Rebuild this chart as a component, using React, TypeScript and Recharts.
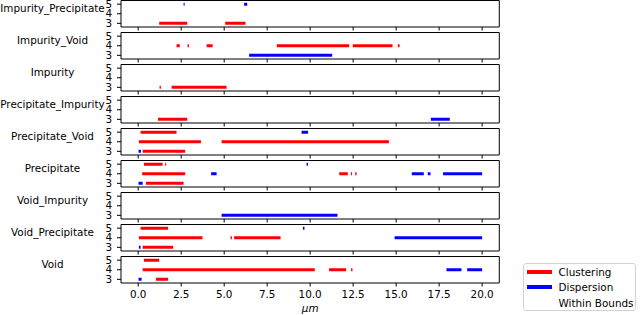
import React from 'react';
import { LineChart, Line, XAxis, YAxis, ReferenceArea, Label } from 'recharts';

// [kind, level, start, end]  C = clustering, D = dispersion
type Seg = [string, number, number, number];

const panelNames = [
    'Impurity_Precipitate',
    'Impurity_Void',
    'Impurity',
    'Precipitate_Impurity',
    'Precipitate_Void',
    'Precipitate',
    'Void_Impurity',
    'Void_Precipitate',
    'Void',
];

const impurityPrecipitate: Seg[] = [
    ['D', 5, 2.64, 2.7],
    ['D', 5, 6.16, 6.34],
    ['C', 3, 1.22, 2.85],
    ['C', 3, 5.06, 6.24],
];

const impurityVoid: Seg[] = [
    ['C', 4, 2.23, 2.42],
    ['C', 4, 2.87, 2.95],
    ['C', 4, 3.98, 4.33],
    ['C', 4, 8.06, 12.27],
    ['C', 4, 12.48, 14.79],
    ['C', 4, 15.1, 15.2],
    ['D', 3, 6.45, 11.28],
];

const impurity: Seg[] = [
    ['C', 3, 1.24, 1.32],
    ['C', 3, 1.94, 5.14],
];

const precipitateImpurity: Seg[] = [
    ['C', 3, 1.15, 2.85],
    ['D', 3, 17.02, 18.12],
];

const precipitateVoid: Seg[] = [
    ['C', 5, 0.14, 2.23],
    ['D', 5, 9.5, 9.88],
    ['C', 4, 0.04, 3.65],
    ['C', 4, 4.85, 14.58],
    ['D', 3, 0.02, 0.16],
    ['C', 3, 0.26, 2.73],
];

const precipitate: Seg[] = [
    ['C', 5, 0.33, 1.42],
    ['C', 5, 1.57, 1.63],
    ['D', 5, 9.79, 9.87],
    ['C', 4, 0.23, 2.73],
    ['D', 4, 4.24, 4.56],
    ['C', 4, 11.69, 12.19],
    ['C', 4, 12.37, 12.44],
    ['C', 4, 12.62, 12.7],
    ['D', 4, 15.91, 16.61],
    ['D', 4, 16.84, 17.0],
    ['D', 4, 17.73, 20.0],
    ['D', 3, 0.02, 0.26],
    ['C', 3, 0.45, 2.64],
];

const voidImpurity: Seg[] = [
    ['D', 3, 4.85, 11.59],
];

const voidPrecipitate: Seg[] = [
    ['C', 5, 0.14, 1.74],
    ['D', 5, 9.58, 9.67],
    ['C', 4, 0.04, 3.74],
    ['C', 4, 5.37, 5.45],
    ['C', 4, 5.58, 8.28],
    ['D', 4, 14.91, 20.0],
    ['D', 3, 0.04, 0.14],
    ['C', 3, 0.26, 2.03],
];

const voidOnly: Seg[] = [
    ['C', 5, 0.33, 1.22],
    ['C', 4, 0.26, 10.27],
    ['C', 4, 11.1, 12.09],
    ['C', 4, 12.38, 12.46],
    ['D', 4, 17.93, 18.8],
    ['D', 4, 19.13, 20.0],
    ['D', 3, 0.02, 0.2],
    ['C', 3, 1.03, 1.74],
];

const panelSegments = [
    impurityPrecipitate, impurityVoid, impurity, precipitateImpurity,
    precipitateVoid, precipitate, voidImpurity, voidPrecipitate, voidOnly,
];

const xTicks = [0, 2.5, 5, 7.5, 10, 12.5, 15, 17.5, 20];
const yTicks = [3, 4, 5];
const legendItems = ['Clustering', 'Dispersion', 'Within Bounds'];

const colors: { [k: string]: string } = { C: '#ff0000', D: '#0000ff', W: '#ffffff' };
const legendColors = [colors.C, colors.D, colors.W];

const font = 'DejaVu Sans';
const fontSize = 10.4;
const tickStyle = { fontFamily: font, fontSize: fontSize, fill: '#000' };

interface IPanel {
    name: string
    segs: Seg[]
    index: number
    last: boolean
}

const Panel = ({ name, segs, index, last }: IPanel) => {
    const height = last ? 59 : 40;
    return (
        <div style={{ position: 'absolute', left: 0, top: index * 32, width: 640, height: height }}>
            <div style={{
                position: 'absolute', left: 0, top: 2.2, width: 105, textAlign: 'center',
                fontFamily: font, fontSize: fontSize, lineHeight: '12px', color: '#000', whiteSpace: 'nowrap'
            }}>{name}</div>
            <div style={{ position: 'absolute', left: 0, top: 0 }}>
                <LineChart width={640} height={height} margin={{ top: 0.5, right: 140.7, bottom: 0, left: 101 }}>
                    <XAxis type="number" dataKey="x" domain={[-1, 21]} ticks={xTicks} allowDataOverflow
                        interval={0} axisLine={false} tickSize={3.5} tickMargin={4} height={last ? 32 : 13}
                        stroke="#000" tickLine={{ stroke: '#000' }} tick={tickStyle}
                        tickFormatter={(v: number) => last ? v.toFixed(1) : ''}>
                        {last && <Label value="μm" position="insideBottom" offset={3}
                            style={{ fontStyle: 'italic', fontFamily: font, fontSize: fontSize, fill: '#000' }} />}
                    </XAxis>
                    <YAxis type="number" domain={[2.62, 5.38]} ticks={yTicks} allowDataOverflow width={20}
                        interval={0} axisLine={false} tickSize={4} tickMargin={5} stroke="#000"
                        tickLine={{ stroke: '#000' }} tick={tickStyle} />
                    <ReferenceArea x1={-1} x2={21} y1={2.62} y2={5.38} fill="none" fillOpacity={0}
                        stroke="#000" strokeWidth={1} ifOverflow="visible" />
                    {segs.map((s, i) => (
                        <Line key={i} data={[{ x: s[2], y: s[1] }, { x: s[3], y: s[1] }]} dataKey="y"
                            type="linear" stroke={colors[s[0]]} strokeWidth={3} strokeLinecap="butt"
                            dot={false} activeDot={false} isAnimationActive={false} />
                    ))}
                </LineChart>
            </div>
        </div>
    );
};

const App = () => {
    return (
        <div style={{ position: 'absolute', left: 0, top: 0, width: 640, height: 315, background: '#fff' }}>
            {panelNames.map((n, i) => (
                <Panel key={n} name={n} segs={panelSegments[i]} index={i} last={i === panelNames.length - 1} />
            ))}
            <div style={{
                position: 'absolute', left: 523, top: 262.5, width: 113, height: 48,
                border: '1px solid #d3d3d3', borderRadius: 3, background: '#fff', boxSizing: 'border-box'
            }}>
                {legendItems.map((label, i) => (
                    <div key={label} style={{ position: 'absolute', left: 0, top: 1 + i * 15.5, height: 14, width: 112 }}>
                        <div style={{
                            position: 'absolute', left: 3, top: 5, width: 24.5, height: 4, background: legendColors[i]
                        }} />
                        <div style={{
                            position: 'absolute', left: 34.5, top: 0, fontFamily: font, fontSize: fontSize,
                            lineHeight: '14px', color: '#000', whiteSpace: 'nowrap'
                        }}>{label}</div>
                    </div>
                ))}
            </div>
        </div>
    );
};

export default App;
